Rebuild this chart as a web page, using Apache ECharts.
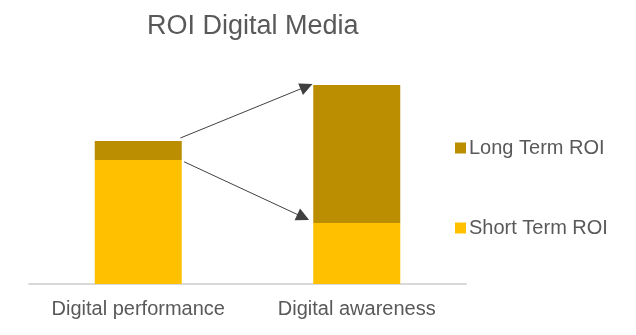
<!DOCTYPE html>
<html>
<head>
<meta charset="utf-8">
<script src="https://cdn.jsdelivr.net/npm/echarts@6/dist/echarts.min.js"></script>
<style>html,body{margin:0;padding:0;background:#fff}#c{width:636px;height:335px}</style>
</head>
<body>
<div id="c"></div>
<script>
const categories = ['Digital performance', 'Digital awareness'];
const shortTermROI = [1.24, 0.61];
const longTermROI = [0.19, 1.38];
const seriesNames = ['Short Term ROI', 'Long Term ROI'];
// arrow annotations in data space: [x on 0..2 category span, value]
const arrowFrom = [[0.693, 1.46], [0.71, 1.222]];
const arrowTo = [[1.27, 1.975], [1.255, 0.668]];

const chart = echarts.init(document.getElementById('c'));
chart.setOption({
  animation: false,
  title: {
    text: 'ROI Digital Media', left: 147, top: 13, padding: 0,
    textStyle: { fontFamily: '"Liberation Sans", Arial', fontSize: 27, fontWeight: 'normal', color: '#595959' }
  },
  legend: {
    orient: 'vertical', left: 455, top: 138, padding: 0, itemWidth: 11, itemHeight: 11, itemGap: 60,
    data: [seriesNames[1], seriesNames[0]],
    icon: 'rect',
    textStyle: { fontFamily: '"Liberation Sans", Arial', fontSize: 20, color: '#595959', padding: [0, 0, 0, -2] }
  },
  grid: { left: 29, right: 170, top: 84, bottom: 51 },
  xAxis: [{
    type: 'category', data: categories,
    axisLine: { lineStyle: { color: '#D9D9D9', width: 2 } },
    axisTick: { show: false },
    axisLabel: { interval: 0, fontFamily: '"Liberation Sans", Arial', fontSize: 20, color: '#595959', margin: 15 }
  }, {
    type: 'value', min: 0, max: 2, show: false
  }],
  yAxis: { type: 'value', min: 0, max: 2, show: false, splitLine: { show: false } },
  series: [{
    name: seriesNames[0], type: 'bar', stack: 'roi', barWidth: 87, data: shortTermROI,
    itemStyle: { color: '#FFC000' }
  }, {
    name: seriesNames[1], type: 'bar', stack: 'roi', barWidth: 87, data: longTermROI,
    itemStyle: { color: '#BB8D00' }
  }, {
    type: 'lines', coordinateSystem: 'cartesian2d', xAxisIndex: 1, yAxisIndex: 0,
    symbol: ['none', 'triangle'], symbolSize: [10, 13],
    lineStyle: { color: '#404040', width: 1, opacity: 1 },
    data: arrowFrom.map((p, i) => ({ coords: [p, arrowTo[i]] }))
  }]
});
</script>
</body>
</html>
